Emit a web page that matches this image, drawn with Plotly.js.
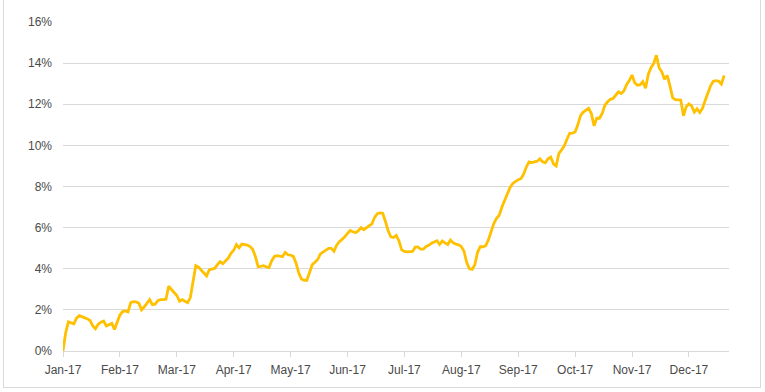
<!DOCTYPE html>
<html>
<head>
<meta charset="utf-8">
<script src="https://cdn.plot.ly/plotly-3.0.1.min.js"></script>
<style>
  html, body { margin: 0; padding: 0; background: #ffffff; }
  #wrap { position: relative; width: 765px; height: 392px; overflow: hidden; }
  #chart { position: absolute; left: 0; top: 0; width: 765px; height: 392px; }
  #frame { position: absolute; left: 3px; top: -1px; width: 756px; height: 387px; border: 1px solid #d9d9d9; pointer-events: none; }
</style>
</head>
<body>
<div id="wrap">
  <div id="chart"></div>
  <div id="frame"></div>
</div>
<script>
// Tick labels (one per month, every 21 trading days)
const monthLabels = ['Jan-17','Feb-17','Mar-17','Apr-17','May-17','Jun-17','Jul-17','Aug-17','Sep-17','Oct-17','Nov-17','Dec-17'];
const daysPerMonthTick = 21;

// Cumulative return (%) per trading day
const returnsJanApr = [
  0.00, 0.90, 1.42, 1.38, 1.32, 1.60, 1.72, 1.67, 1.62, 1.56,
  1.48, 1.22, 1.08, 1.30, 1.40, 1.46, 1.22, 1.30, 1.34, 1.05,
  1.40, 1.75, 1.92, 1.95, 1.90, 2.35, 2.40, 2.39, 2.32, 2.00,
  2.15, 2.35, 2.50, 2.25, 2.28, 2.45, 2.50, 2.50, 2.52, 3.15,
  3.00, 2.85, 2.70, 2.42, 2.50, 2.42, 2.35, 2.60, 3.30, 4.15,
  4.08, 3.95, 3.80, 3.65, 3.95, 4.00, 4.02, 4.20, 4.35, 4.25,
  4.38, 4.52, 4.75, 4.90, 5.18, 5.02, 5.20, 5.18, 5.15, 5.08,
  4.95, 4.60, 4.10, 4.12, 4.15, 4.10, 4.05, 4.38, 4.60, 4.64
];
const returnsMayAug = [
  4.62, 4.59, 4.80, 4.68, 4.66, 4.60, 4.28, 3.80, 3.50, 3.44,
  3.44, 3.85, 4.20, 4.32, 4.45, 4.72, 4.80, 4.90, 4.99, 4.99,
  4.85, 5.15, 5.32, 5.43, 5.55, 5.72, 5.86, 5.80, 5.75, 5.85,
  6.00, 5.90, 5.98, 6.10, 6.18, 6.50, 6.68, 6.72, 6.70, 6.30,
  5.85, 5.55, 5.52, 5.62, 5.35, 4.92, 4.84, 4.82, 4.82, 4.84,
  5.05, 5.06, 4.95, 4.95, 5.08, 5.14, 5.24, 5.30, 5.36, 5.18,
  5.35, 5.26, 5.18, 5.40, 5.26, 5.20, 5.16, 5.08, 4.85, 4.30,
  4.00, 3.97, 4.20, 4.80, 5.07, 5.07, 5.12, 5.40, 5.85, 6.20
];
const returnsSepDec = [
  6.45, 6.60, 7.00, 7.35, 7.70, 7.95, 8.15, 8.25, 8.33, 8.38,
  8.60, 8.95, 9.20, 9.16, 9.20, 9.23, 9.35, 9.20, 9.15, 9.35,
  9.43, 9.10, 9.00, 9.60, 9.78, 9.98, 10.30, 10.59, 10.60, 10.65,
  11.00, 11.45, 11.62, 11.73, 11.80, 11.55, 10.95, 11.32, 11.32, 11.55,
  11.95, 12.12, 12.24, 12.28, 12.45, 12.60, 12.52, 12.65, 12.95, 13.15,
  13.42, 13.05, 12.92, 12.95, 13.10, 12.78, 13.45, 13.78, 13.98, 14.38,
  13.78, 13.58, 13.22, 13.40, 12.90, 12.32, 12.22, 12.22, 12.20, 11.44,
  11.88, 12.02, 11.92, 11.62, 11.78, 11.60, 11.80, 12.18, 12.58, 12.90,
  13.12, 13.15, 13.12, 12.98, 13.40
];
const yTickValues = [0, 2, 4, 6, 8, 10, 12, 14, 16];

const returns = returnsJanApr.concat(returnsMayAug, returnsSepDec);
const dayIndex = returns.map((_, i) => i);
const tickPositions = monthLabels.map((_, i) => i * daysPerMonthTick);

const trace = {
  x: dayIndex,
  y: returns,
  type: 'scatter',
  mode: 'lines',
  line: { color: '#FFC000', width: 2.8 },
  hoverinfo: 'skip'
};

const tickFont = { family: 'Liberation Sans, Arial, sans-serif', size: 12, color: '#4a4a4a' };

const layout = {
  width: 765,
  height: 392,
  margin: { l: 63, r: 36, t: 22, b: 41 },
  paper_bgcolor: 'rgba(0,0,0,0)',
  plot_bgcolor: '#ffffff',
  showlegend: false,
  xaxis: {
    type: 'linear',
    range: [0, 245.8],
    tickmode: 'array',
    tickvals: tickPositions,
    ticktext: monthLabels,
    ticks: 'outside',
    ticklen: 5,
    tickcolor: '#d9d9d9',
    ticklabelstandoff: 3,
    tickfont: tickFont,
    showgrid: false,
    zeroline: false,
    showline: true,
    linecolor: '#d9d9d9',
    linewidth: 1,
    fixedrange: true
  },
  yaxis: {
    range: [0, 16],
    tickmode: 'array',
    tickvals: yTickValues,
    ticktext: yTickValues.map(v => v + '%'),
    ticks: '',
    ticklabelstandoff: 10,
    tickfont: tickFont,
    showgrid: true,
    gridcolor: '#d9d9d9',
    gridwidth: 1,
    zeroline: false,
    showline: false,
    fixedrange: true
  }
};

Plotly.newPlot('chart', [trace], layout, { displayModeBar: false, staticPlot: true });
</script>
</body>
</html>
